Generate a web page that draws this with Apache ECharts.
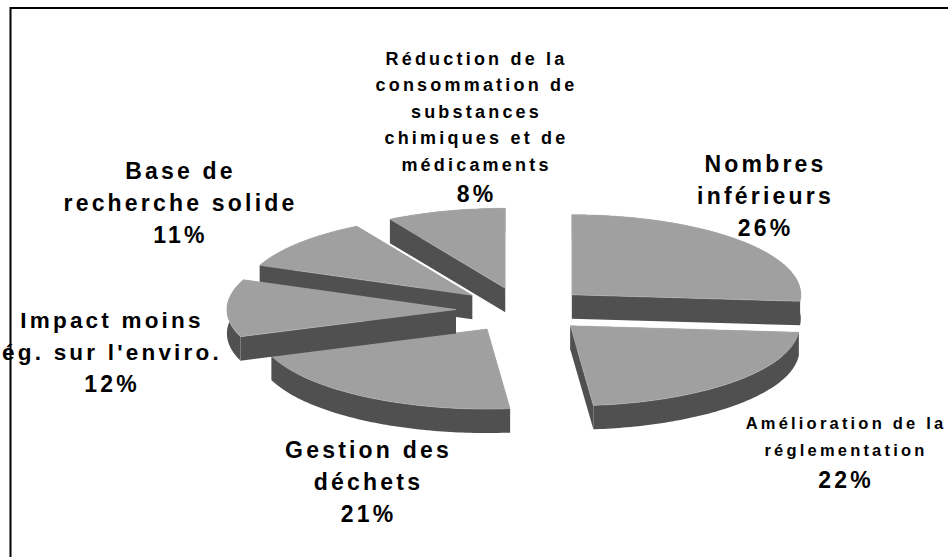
<!DOCTYPE html>
<html>
<head>
<meta charset="utf-8">
<style>
html, body { margin: 0; padding: 0; background: #fff; overflow: hidden; }
#main { width: 948px; height: 557px; }
#main text { letter-spacing: 3.2px; }
</style>
<script src="https://cdn.jsdelivr.net/npm/echarts@6/dist/echarts.min.js"></script>
</head>
<body>
<div id="main"></div>
<script>
// clockwise from 12 o'clock
var categories = [
    'Nombres\ninférieurs',
    'Amélioration de la\nréglementation',
    'Gestion des\ndéchets',
    'Impact moins\nég. sur l\'enviro.',
    'Base de\nrecherche solide',
    'Réduction de la\nconsommation de\nsubstances\nchimiques et de\nmédicaments'
];
var values = [26.3, 22.1, 21.1, 11.6, 10.5, 8.4];

// the pie, squashed to look 3d
var cx = 522.7, cy = 310;
var rx = 229, ry = 80, depth = 24;
var explodeX = 66.8, explodeY = 22.5;
var total = _sum(values);

// painter order and label placement, same order as categories
var slicePaint = [4, 5, 2, 3, 1, 0];
var labelBox = [
    { x: 765.5, y: 148, size: 23, lh: 32 },
    { x: 846, y: 409.5, size: 16.5, lh: 27 },
    { x: 368.5, y: 434, size: 23, lh: 32 },
    { x: 112, y: 304, size: 22.5, lh: 32 },
    { x: 180.5, y: 154.5, size: 23, lh: 32 },
    { x: 476.5, y: 45.5, size: 18, lh: 26.5 }
];
var pctSize = 23;

function _sum(arr) {
    var s = 0;
    for (var i = 0; i < arr.length; i++) s += arr[i];
    return s;
}

function point(ox, oy, deg) {
    var a = deg * Math.PI / 180;
    return [ox + rx * Math.sin(a), oy - ry * Math.cos(a)];
}

function renderSlice(params, api) {
    var idx = params.dataIndex;
    var before = 0;
    for (var i = 0; i < idx; i++) before += values[i];
    var start = before / total * 360;
    var end = (before + api.value(0)) / total * 360;
    var mid = (start + end) / 2 * Math.PI / 180;
    var ox = cx + explodeX * Math.sin(mid);
    var oy = cy - explodeY * Math.cos(mid);

    var arc = [];
    for (var d = start; d < end; d += 1) arc.push(point(ox, oy, d));
    arc.push(point(ox, oy, end));

    var top = [[ox, oy]].concat(arc);
    var first = arc[0], last = arc[arc.length - 1];
    var z = slicePaint[idx] * 2;
    var children = [];

    // rim
    var rim = arc.concat(arc.slice().reverse().map(function (p) { return [p[0], p[1] + depth]; }));
    children.push({ type: 'polygon', z2: z, shape: { points: rim }, style: { fill: '#505050' } });
    // two cut faces
    [first, last].forEach(function (p) {
        children.push({
            type: 'polygon', z2: z,
            shape: { points: [[ox, oy], p, [p[0], p[1] + depth], [ox, oy + depth]] },
            style: { fill: '#505050' }
        });
    });
    children.push({
        type: 'polygon', z2: z + 1,
        shape: { points: top },
        style: { fill: '#a0a0a0', stroke: '#b4b4b4', lineWidth: 0.6 }
    });

    var box = labelBox[idx];
    var name = categories[idx];
    var lines = name.split('\n').length;
    children.push({
        type: 'text', z2: 100,
        style: {
            text: name, x: box.x, y: box.y, align: 'center', verticalAlign: 'top',
            fill: '#000', lineHeight: box.lh,
            font: 'bold ' + box.size + 'px "Liberation Sans"'
        }
    });
    children.push({
        type: 'text', z2: 100,
        style: {
            text: Math.round(api.value(0)) + '%', x: box.x, y: box.y + lines * box.lh, align: 'center', verticalAlign: 'top',
            fill: '#000', lineHeight: 32,
            font: 'bold ' + pctSize + 'px "Liberation Sans"'
        }
    });
    return { type: 'group', children: children };
}

var myChart = echarts.init(document.getElementById('main'), null, { renderer: 'svg' });

var option = {
    animation: false,
    backgroundColor: '#fff',
    graphic: [{
        type: 'line',
        shape: { x1: 10, y1: 8, x2: 948, y2: 8 },
        style: { stroke: '#000', lineWidth: 2 }
    }, {
        type: 'line',
        shape: { x1: 10.5, y1: 7, x2: 10.5, y2: 557 },
        style: { stroke: '#000', lineWidth: 2 }
    }],
    series: [{
        type: 'custom',
        coordinateSystem: 'none',
        renderItem: renderSlice,
        data: values.map(function (v) { return [v]; })
    }]
};

myChart.setOption(option);
</script>
</body>
</html>
